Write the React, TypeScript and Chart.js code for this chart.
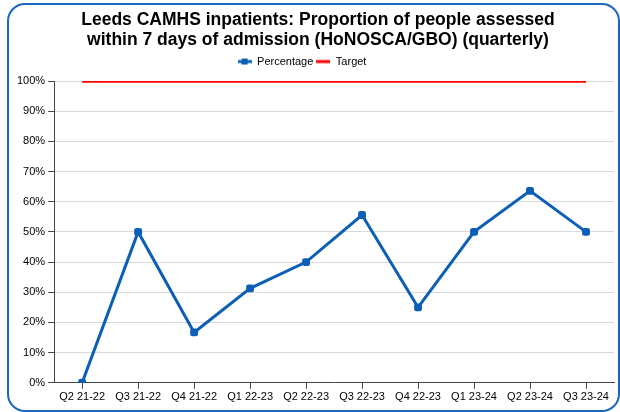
import React, { useEffect, useRef } from "react";
import { Chart, registerables } from "chart.js";

Chart.register(...registerables);

const categories = [
  "Q2 21-22", "Q3 21-22", "Q4 21-22", "Q1 22-23", "Q2 22-23",
  "Q3 22-23", "Q4 22-23", "Q1 23-24", "Q2 23-24", "Q3 23-24",
];
const percentage = [0, 50, 16.7, 31.3, 40, 55.6, 25, 50, 63.6, 50];
const target = [100, 100, 100, 100, 100, 100, 100, 100, 100, 100];
const titleLines = [
  "Leeds CAMHS inpatients: Proportion of people assessed",
  "within 7 days of admission (HoNOSCA/GBO) (quarterly)",
];

const BLUE = "#0c5fb6";
const RED = "#ff0000";
const FONT = "'Liberation Sans', Arial, sans-serif";

function legendIcon(color: string, dot: boolean) {
  const c = document.createElement("canvas");
  c.width = 14;
  c.height = 8;
  const ctx = c.getContext("2d")!;
  ctx.strokeStyle = color;
  ctx.lineWidth = 3;
  ctx.beginPath();
  ctx.moveTo(0, 4);
  ctx.lineTo(14, 4);
  ctx.stroke();
  if (dot) {
    ctx.fillStyle = color;
    ctx.fillRect(4, 1, 6, 6);
  }
  return c;
}

const shiftBlocks = {
  id: "shiftBlocks",
  afterLayout(chart: any) {
    if (chart.titleBlock) {
      chart.titleBlock.left += 4;
      chart.titleBlock.right += 4;
    }
    if (chart.legend) {
      chart.legend.left -= 12;
      chart.legend.right -= 12;
    }
  },
};

export default function App() {
  const ref = useRef<HTMLCanvasElement>(null);
  useEffect(() => {
    document.body.style.overflow = "hidden";
    const blueIcon = legendIcon(BLUE, true);
    const redIcon = legendIcon(RED, false);
    const chart = new Chart(ref.current!, {
      type: "line",
      data: {
        labels: categories,
        datasets: [
          {
            label: "Percentage",
            data: percentage,
            borderColor: BLUE,
            backgroundColor: BLUE,
            borderWidth: 3,
            pointRadius: 4.6,
            pointBackgroundColor: BLUE,
            pointBorderColor: BLUE,
            pointBorderWidth: 0,
            pointStyle: "rectRounded",
            tension: 0,
          },
          {
            label: "Target",
            data: target,
            borderColor: RED,
            backgroundColor: RED,
            borderWidth: 3.5,
            pointRadius: 0,
            tension: 0,
          },
        ],
      },
      plugins: [shiftBlocks],
      options: {
        animation: false,
        responsive: false,
        layout: { padding: { left: 14, right: 6, top: 0, bottom: 6 } },
        plugins: {
          title: {
            display: true,
            text: titleLines,
            color: "#000",
            font: { family: FONT, size: 17.5, weight: "bold", lineHeight: 1.143 },
            padding: { top: 10, bottom: 3 },
          },
          subtitle: {
            display: true,
            text: "",
            weight: 500,
            font: { size: 1, lineHeight: 1 },
            padding: { top: 1, bottom: 2 },
          },
          legend: {
            display: true,
            labels: {
              usePointStyle: true,
              pointStyleWidth: 14,
              boxHeight: 8,
              color: "#000",
              font: { family: FONT, size: 11 },
              padding: 3,
              generateLabels: (chart: any) =>
                chart.data.datasets.map((ds: any, i: number) => ({
                  text: ds.label,
                  pointStyle: i === 0 ? blueIcon : redIcon,
                  fillStyle: ds.borderColor,
                  strokeStyle: ds.borderColor,
                  lineWidth: 0,
                  hidden: false,
                  datasetIndex: i,
                  fontColor: "#000",
                })),
            },
          },
          tooltip: { enabled: false },
        },
        scales: {
          x: {
            offset: true,
            grid: {
              drawOnChartArea: false,
              drawTicks: true,
              tickLength: 6,
              tickColor: "#444",
              offset: false,
            },
            border: { color: "#444", width: 1 },
            ticks: {
              color: "#000",
              font: { family: FONT, size: 11 },
              maxRotation: 0,
              autoSkip: false,
              padding: 2,
            },
          },
          y: {
            min: 0,
            max: 100,
            grid: {
              color: "#d9d9d9",
              tickColor: "#444",
              tickLength: 6,
            },
            border: { color: "#444", width: 1 },
            ticks: {
              stepSize: 10,
              color: "#000",
              font: { family: FONT, size: 11 },
              padding: 3,
              callback: (v: any) => v + "%",
            },
          },
        },
      },
    });
    return () => chart.destroy();
  }, []);

  return (
    <div style={{ position: "absolute", left: 0, top: 0, width: 620, height: 412, overflow: "hidden", background: "#fff" }}>
      <canvas ref={ref} width={620} height={412} style={{ position: "absolute", left: 0, top: 0 }} />
      <div
        style={{
          position: "absolute",
          left: 7,
          top: 3,
          width: 613,
          height: 409,
          boxSizing: "border-box",
          border: "2.5px solid #1a66c0",
          borderRadius: 18,
          pointerEvents: "none",
        }}
      />
    </div>
  );
}
